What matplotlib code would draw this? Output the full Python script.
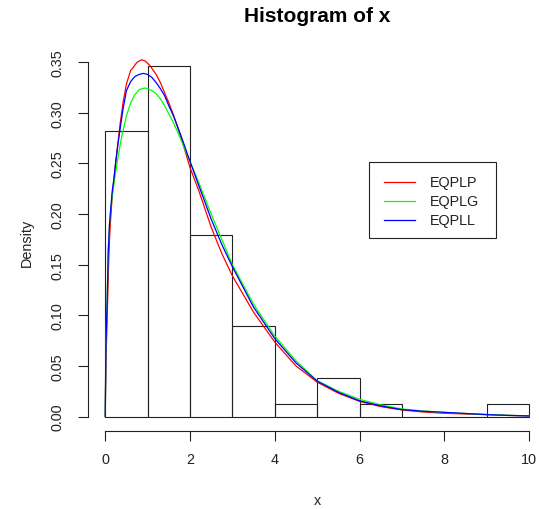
import numpy as np
import matplotlib
matplotlib.use("Agg")
import matplotlib.pyplot as plt
from matplotlib.lines import Line2D
from matplotlib.patches import Rectangle

plt.rcParams['font.family'] = ['Liberation Sans', 'DejaVu Sans']

# histogram (density scale)
bin_edges = [0, 1, 2, 3, 4, 5, 6, 7, 8, 9, 10]
densities = [0.282, 0.346, 0.179, 0.0897, 0.0128, 0.0385, 0.0128, 0.0, 0.0, 0.0128]

# fitted densities
x_eqplp = [0, 0.005, 0.02, 0.05, 0.075, 0.10, 0.13, 0.165, 0.205, 0.25, 0.27, 0.35, 0.42,
           0.5, 0.6, 0.66, 0.75, 0.86, 0.95, 1.05, 1.2, 1.3, 1.4, 1.5, 1.6, 1.7, 1.8,
           1.9, 2.0, 2.2, 2.5, 2.75, 3.0, 3.5, 4.0, 4.5, 5.0, 5.5, 6.0, 6.5, 7.0, 7.5,
           8.0, 8.5, 9.0, 9.5, 10]
y_eqplp = [0, 0.020, 0.060, 0.105, 0.145, 0.175, 0.197, 0.218, 0.234, 0.252, 0.259, 0.289, 0.310,
           0.3286, 0.342, 0.345, 0.350, 0.3525, 0.351, 0.347, 0.338, 0.330, 0.320, 0.310, 0.299, 0.287, 0.274,
           0.260, 0.246, 0.224, 0.187, 0.161, 0.139, 0.103, 0.0736, 0.050, 0.034, 0.023, 0.015, 0.0098, 0.0065, 0.0045,
           0.0032, 0.0025, 0.0019, 0.0011, 0.0006]

x_eqplg = [0, 0.005, 0.017, 0.047, 0.07, 0.10, 0.13, 0.165, 0.205, 0.25, 0.3, 0.35, 0.4,
           0.5, 0.6, 0.7, 0.8, 0.94, 1.0, 1.1, 1.2, 1.3, 1.4, 1.5, 1.6, 1.7, 1.8,
           1.9, 2.0, 2.2, 2.5, 2.75, 3.0, 3.5, 3.6, 4.0, 4.5, 5.0, 5.5, 6.0, 6.5, 7.0,
           7.5, 8.0, 8.5, 9.0, 9.5, 10]
y_eqplg = [0, 0.024, 0.075, 0.120, 0.165, 0.190, 0.205, 0.218, 0.230, 0.243, 0.256, 0.268, 0.279,
           0.297, 0.310, 0.318, 0.323, 0.3246, 0.324, 0.322, 0.319, 0.314, 0.307, 0.299, 0.291, 0.282, 0.272,
           0.262, 0.252, 0.232, 0.200, 0.175, 0.150, 0.111, 0.1045, 0.0795, 0.055, 0.0354, 0.025, 0.017, 0.0115, 0.0075,
           0.0055, 0.0040, 0.0030, 0.0020, 0.0012, 0.0007]

x_eqpll = [0, 0.005, 0.017, 0.047, 0.07, 0.10, 0.13, 0.165, 0.205, 0.245, 0.283, 0.35, 0.42,
           0.5, 0.6, 0.7, 0.8, 0.9, 1.0, 1.1, 1.2, 1.3, 1.4, 1.5, 1.6, 1.7, 1.8,
           1.9, 2.0, 2.2, 2.5, 2.75, 3.0, 3.5, 4.0, 4.5, 5.0, 5.5, 6.0, 6.5, 7.0, 7.5,
           8.0, 8.5, 9.0, 9.5, 10]
y_eqpll = [0, 0.024, 0.071, 0.116, 0.162, 0.190, 0.205, 0.223, 0.235, 0.251, 0.264, 0.284, 0.304,
           0.322, 0.331, 0.336, 0.338, 0.339, 0.338, 0.335, 0.330, 0.324, 0.317, 0.307, 0.298, 0.287, 0.276,
           0.264, 0.252, 0.229, 0.195, 0.170, 0.148, 0.108, 0.077, 0.053, 0.035, 0.024, 0.0155, 0.0105, 0.0068, 0.0052,
           0.0042, 0.0030, 0.0019, 0.0011, 0.0006]

legend_labels = ["EQPLP", "EQPLG", "EQPLL"]
colors = ["#ff0000", "#00ff00", "#0000ff"]

W, H = 539, 510
fig = plt.figure(figsize=(W / 100, H / 100), dpi=100)
left, right, top, bottom = 88.3, 546.0, 49.1, 431.7
ax = fig.add_axes([left / W, 1 - bottom / H, (right - left) / W, (bottom - top) / H])
ax.set_facecolor("none")

ax.bar(bin_edges[:-1], densities, width=np.diff(bin_edges), align="edge",
       fill=False, edgecolor="#222222", linewidth=0.8)

for xs, ys, c in zip([x_eqplp, x_eqplg, x_eqpll], [y_eqplp, y_eqplg, y_eqpll], colors):
    ax.plot(xs, ys, color=c, linewidth=0.9)

ax.set_xlim(-0.4, 10.4)
ax.set_ylim(-0.014, 0.364)
ax.set_xticks([0, 2, 4, 6, 8, 10])
ax.set_yticks(np.arange(0, 0.351, 0.05))
ax.set_yticklabels([f"{v:.2f}" for v in np.arange(0, 0.351, 0.05)], rotation=90, va="center")

for s in ["top", "right"]:
    ax.spines[s].set_visible(False)
ax.spines["left"].set_bounds(0, 0.35)
ax.spines["bottom"].set_bounds(0, 10)
for s in ["left", "bottom"]:
    ax.spines[s].set_linewidth(0.8)
    ax.spines[s].set_color("#222222")
ax.tick_params(axis="both", length=7, width=0.8, color="#222222", labelsize=10.4, labelcolor="#222222")
ax.tick_params(axis="x", pad=8)
ax.tick_params(axis="y", pad=10)

# titles and axis labels
fig.text(317 / W, 1 - 22.5 / H, "Histogram of x", ha="center", va="baseline",
         fontsize=15, fontweight="bold")
fig.text(317 / W, 1 - 501.5 / H, "x", ha="center", va="center", fontsize=10.4, color="#222222")
fig.text(27 / W, 1 - 243 / H, "Density", ha="center", va="center", rotation=90,
         fontsize=10.4, color="#222222")

# legend box
fig.patches.append(Rectangle((369 / W, 1 - 239 / H), (496 - 369) / W, (239 - 163) / H,
                             transform=fig.transFigure, fill=False, edgecolor="#222222", linewidth=0.8))
for i, (lab, c) in enumerate(zip(legend_labels, colors)):
    yy = 1 - (183 + 19 * i) / H
    fig.lines.append(Line2D([384 / W, 415 / W], [yy, yy], transform=fig.transFigure,
                            color=c, linewidth=0.9))
    fig.text(430 / W, yy, lab, ha="left", va="center", fontsize=10.4, color="#222222")

fig.savefig("out.png", dpi=100)
